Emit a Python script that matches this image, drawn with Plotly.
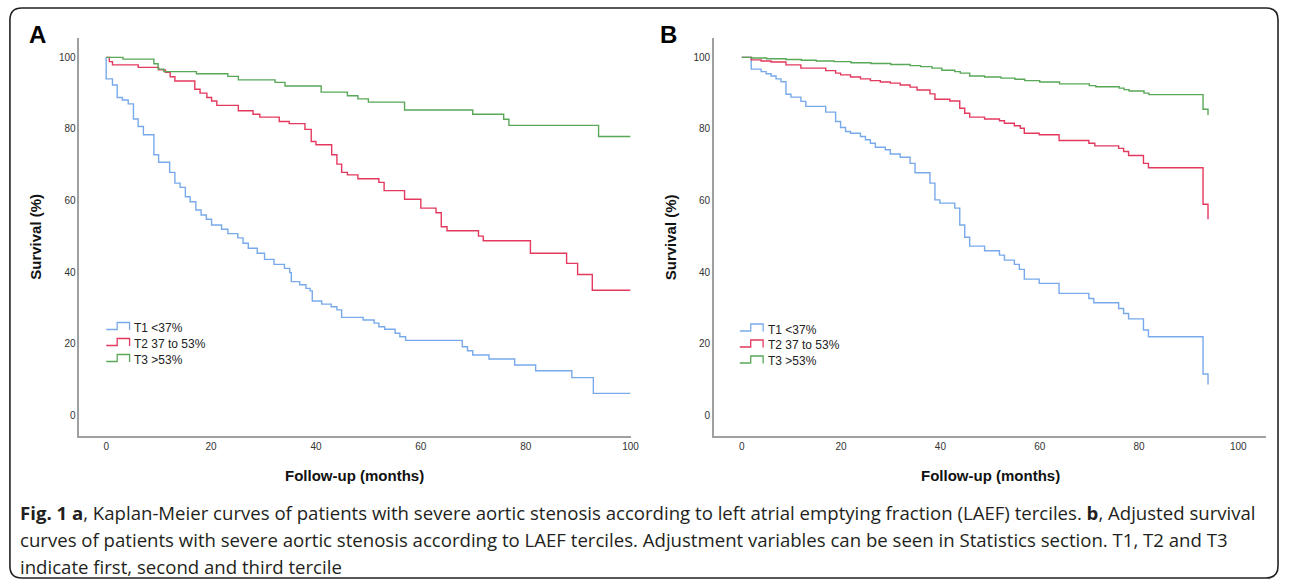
import plotly.graph_objects as go

W, H = 1290, 584

# ---------------- data ----------------
series_names = ["T1 <37%", "T2 37 to 53%", "T3 >53%"]
series_colors = ["#78aaeb", "#e4395e", "#58a858"]

# Panel A: Kaplan-Meier
a_t1_time = [0, 0, 1.2, 2.1, 3.1, 4.2, 5.2, 6.1, 7.1, 9.1, 10.0, 12.1, 13.1, 14.1, 15.1, 16.0,
             17.1, 18.1, 19.1, 20.1, 22.0, 23.2, 25.1, 26.1, 27.1, 28.8, 30.2, 32.0, 34.0, 35.0,
             35.3, 36.9, 38.1, 38.9, 39.3, 41.1, 42.9, 44.0, 44.9, 49.0, 51.1, 52.0, 53.1, 55.1,
             56.0, 57.1, 67.9, 68.9, 69.9, 73.0, 77.9, 81.9, 88.8, 92.9, 100]
a_t1_surv = [100, 94.0, 92.3, 88.8, 88.1, 87.0, 82.8, 80.7, 78.4, 72.8, 70.7, 67.9, 64.9, 63.7, 61.1, 59.7,
             57.4, 56.0, 54.8, 53.2, 52.0, 50.8, 49.6, 48.1, 46.7, 45.3, 43.6, 42.2, 41.1, 39.9,
             37.4, 36.5, 35.5, 34.8, 32.0, 31.1, 30.4, 29.5, 27.4, 26.7, 25.8, 24.8, 24.1, 23.0,
             22.0, 21.0, 19.2, 18.1, 16.9, 15.8, 14.1, 12.5, 10.6, 6.2, 6.2]

a_t2_time = [0, 0.6, 1.2, 6.1, 10.0, 11.3, 12.2, 13.1, 16.9, 17.9, 19.2, 20.1, 21.1, 25.2, 28.0,
             29.3, 33.0, 34.9, 37.9, 39.1, 40.0, 43.0, 44.0, 44.9, 46.0, 48.0, 52.0, 53.0, 56.9,
             60.0, 62.9, 63.9, 65.0, 71.0, 71.9, 80.9, 87.8, 89.9, 92.7, 100]
a_t2_surv = [100, 98.8, 97.9, 97.2, 96.5, 95.8, 94.6, 93.4, 91.1, 90.0, 88.8, 87.8, 86.6, 85.1, 84.1,
             83.3, 82.1, 81.5, 79.9, 76.5, 75.6, 72.8, 70.2, 67.9, 67.2, 66.1, 65.1, 62.8, 60.4,
             57.9, 56.6, 52.7, 51.6, 50.1, 48.8, 45.3, 42.5, 39.4, 35.0, 35.0]

a_t3_time = [0, 3.2, 9.1, 9.9, 11.0, 17.2, 23.2, 25.2, 32.2, 34.1, 41.0, 46.0, 48.0, 50.0, 56.9,
             69.9, 75.8, 76.8, 93.9, 100]
a_t3_surv = [100, 99.5, 98.2, 96.7, 96.0, 95.4, 94.7, 93.7, 93.0, 92.0, 90.3, 89.3, 88.4, 87.5, 85.3,
             84.1, 82.7, 81.0, 77.9, 77.9]

# Panel B: adjusted survival
b_t1_time = [0, 1.9, 3.9, 4.9, 5.9, 6.9, 7.9, 8.9, 9.9, 11.9, 12.9, 16.9, 18.9, 19.9, 20.9, 21.9,
             23.9, 24.9, 25.9, 26.9, 28.9, 29.9, 31.9, 33.9, 34.9, 37.9, 38.9, 39.9, 42.9, 43.9,
             44.9, 45.9, 48.9, 51.9, 52.9, 54.9, 55.9, 56.9, 59.9, 63.9, 69.9, 70.9, 75.9, 76.9,
             77.9, 80.9, 81.9, 92.9, 93.9]
b_t1_surv = [100, 96.7, 96.0, 95.4, 94.8, 94.0, 93.2, 89.7, 88.9, 87.7, 86.3, 84.7, 82.1, 80.4, 79.3, 78.8,
             77.9, 77.0, 76.0, 74.9, 74.2, 73.0, 72.1, 70.4, 67.8, 64.9, 60.2, 59.3, 57.9, 53.2,
             49.8, 47.3, 46.0, 44.8, 43.4, 42.2, 40.8, 38.1, 36.9, 34.1, 32.7, 31.5, 29.9, 28.5,
             27.0, 23.9, 22.0, 11.6, 8.7]

b_t2_time = [0, 1.9, 3.9, 5.9, 8.9, 11.9, 16.9, 18.9, 19.9, 21.9, 23.9, 25.9, 27.9, 29.9, 31.9,
             33.9, 35.3, 37.9, 38.9, 41.9, 43.9, 44.9, 45.9, 48.9, 51.9, 52.9, 54.9, 56.1, 56.9,
             59.9, 63.9, 69.9, 71.1, 75.9, 76.9, 77.9, 80.9, 81.9, 92.9, 93.9]
b_t2_surv = [100, 99.3, 99.0, 98.7, 97.9, 97.0, 96.3, 95.6, 95.1, 94.5, 94.0, 93.5, 93.1, 92.8, 92.3,
             91.7, 90.9, 89.8, 88.3, 87.8, 85.8, 84.4, 83.3, 82.8, 82.3, 81.6, 80.9, 80.2, 78.8,
             78.4, 76.8, 76.0, 75.3, 74.6, 73.7, 72.6, 70.4, 69.2, 59.0, 54.8]

b_t3_time = [0, 2.0, 5.0, 8.9, 12.0, 15.0, 18.6, 22.0, 26.0, 30.0, 33.9, 36.0, 38.3, 40.3, 42.9,
             44.0, 45.9, 48.9, 52.2, 55.0, 57.0, 60.0, 64.0, 70.0, 71.3, 76.0, 77.0, 78.0, 81.0,
             82.0, 92.9, 93.9]
b_t3_surv = [100, 99.8, 99.6, 99.4, 99.2, 99.0, 98.8, 98.5, 98.3, 98.0, 97.7, 97.4, 97.0, 96.4, 96.0,
             95.6, 94.8, 94.5, 94.2, 93.9, 93.5, 93.1, 92.6, 92.1, 91.8, 91.4, 91.0, 90.6, 90.0,
             89.6, 85.5, 83.9]

y_ticks = [0, 20, 40, 60, 80, 100]
x_ticks = [0, 20, 40, 60, 80, 100]

caption_lines = [
    "<b>Fig. 1 a</b>, Kaplan-Meier curves of patients with severe aortic stenosis according to left atrial emptying fraction (LAEF) terciles. <b>b</b>, Adjusted survival",
    "curves of patients with severe aortic stenosis according to LAEF terciles. Adjustment variables can be seen in Statistics section. T1, T2 and T3",
    "indicate first, second and third tercile",
]

# ---------------- figure ----------------
fig = go.Figure()

panel_a = [(a_t1_time, a_t1_surv), (a_t2_time, a_t2_surv), (a_t3_time, a_t3_surv)]
panel_b = [(b_t1_time, b_t1_surv), (b_t2_time, b_t2_surv), (b_t3_time, b_t3_surv)]

for (tt, ss), name, col in zip(panel_a, series_names, series_colors):
    fig.add_trace(go.Scatter(x=tt, y=ss, mode="lines", line=dict(shape="hv", color=col, width=1.4),
                             name=name, showlegend=False, xaxis="x", yaxis="y"))
for (tt, ss), name, col in zip(panel_b, series_names, series_colors):
    fig.add_trace(go.Scatter(x=tt, y=ss, mode="lines", line=dict(shape="hv", color=col, width=1.4),
                             name=name, showlegend=False, xaxis="x2", yaxis="y2"))

def px(p):
    return p / W

def py(p):
    return 1 - p / H

tick_font = dict(family="Liberation Sans, Arial", size=10, color="#333333")
axis_common = dict(showline=True, linecolor="#a0a0a0", linewidth=1.6, showgrid=False,
                   zeroline=False, ticks="", tickfont=tick_font, fixedrange=True)

ydom = [py(436), py(38)]
fig.update_layout(
    width=W, height=H, autosize=False, margin=dict(l=0, r=0, t=0, b=0, pad=0),
    paper_bgcolor="white", plot_bgcolor="white", showlegend=False,
    xaxis=dict(domain=[px(80), px(635)], range=[-5.1, 100], tickvals=x_ticks, anchor="y", **axis_common),
    yaxis=dict(domain=ydom, range=[-5.7, 105.4], tickvals=y_ticks, anchor="x", **axis_common),
    xaxis2=dict(domain=[px(719), px(1275)], range=[-5.6, 105.6], tickvals=x_ticks, anchor="y2", **axis_common),
    yaxis2=dict(domain=ydom, range=[-5.7, 105.4], tickvals=y_ticks, anchor="x2", **axis_common),
)

ann = []
shapes = []
title_font = dict(family="Liberation Sans, Arial", size=15, color="#111111")
for lbl, xl, xc, ycy in [("A", 38, 357, 35), ("B", 673, 997, 35)]:
    ann.append(dict(text="<b>%s</b>" % lbl, x=px(xl), y=py(ycy), xref="paper", yref="paper",
                    showarrow=False, xanchor="center", yanchor="middle",
                    font=dict(family="Liberation Sans, Arial", size=24, color="#000000")))
    ann.append(dict(text="<b>Follow-up (months)</b>", x=px(xc), y=py(475), xref="paper", yref="paper",
                    showarrow=False, xanchor="center", yanchor="middle", font=title_font))
for xt in [35, 675]:
    ann.append(dict(text="<b>Survival (%)</b>", x=px(xt), y=py(237), xref="paper", yref="paper",
                    showarrow=False, xanchor="center", yanchor="middle", textangle=-90, font=title_font))

# Legends (SPSS-style step glyphs)
legend_font = dict(family="Liberation Sans, Arial", size=12, color="#222222")
for x0, rows in [(107, [328, 344, 360]), (745, [329.5, 345.5, 361.5])]:
    for name, col, y0 in zip(series_names, series_colors, rows):
        path = "M %f,%f L %f,%f L %f,%f L %f,%f L %f,%f" % (
            px(x0), py(y0 + 1.5), px(x0 + 11), py(y0 + 1.5), px(x0 + 11), py(y0 - 5.5),
            px(x0 + 23.5), py(y0 - 5.5), px(x0 + 23.5), py(y0 + 2))
        shapes.append(dict(type="path", path=path, xref="paper", yref="paper",
                           line=dict(color=col, width=1.3)))
        ann.append(dict(text=name, x=px(x0 + 26), y=py(y0), xref="paper", yref="paper",
                        showarrow=False, xanchor="left", yanchor="middle", font=legend_font))

# Caption
cap_font = dict(family="Open Sans, Lato", size=18.6, color="#231f20")
for line, yc in zip(caption_lines, [512, 539, 566]):
    ann.append(dict(text=line, x=px(18), y=py(yc), xref="paper", yref="paper", showarrow=False,
                    xanchor="left", yanchor="middle", font=cap_font))

# Rounded frame
x1, x2, y1, y2, r = 10, 1287, 8, 578, 12
rx, ry = r / W, r / H
frame = ("M %f,%f L %f,%f Q %f,%f %f,%f L %f,%f Q %f,%f %f,%f L %f,%f Q %f,%f %f,%f L %f,%f Q %f,%f %f,%f Z" % (
    px(x1) + rx, py(y1), px(x2) - rx, py(y1), px(x2), py(y1), px(x2), py(y1) - ry,
    px(x2), py(y2) + ry, px(x2), py(y2), px(x2) - rx, py(y2),
    px(x1) + rx, py(y2), px(x1), py(y2), px(x1), py(y2) + ry,
    px(x1), py(y1) - ry, px(x1), py(y1), px(x1) + rx, py(y1)))
shapes.append(dict(type="path", path=frame, xref="paper", yref="paper",
                   line=dict(color="#222222", width=1.6), layer="below"))

fig.update_layout(annotations=ann, shapes=shapes)
fig.write_html("out.html", config={"responsive": False}, default_width="1290px", default_height="584px",
               post_script="document.body.style.margin='0';document.body.style.overflow='hidden';")
